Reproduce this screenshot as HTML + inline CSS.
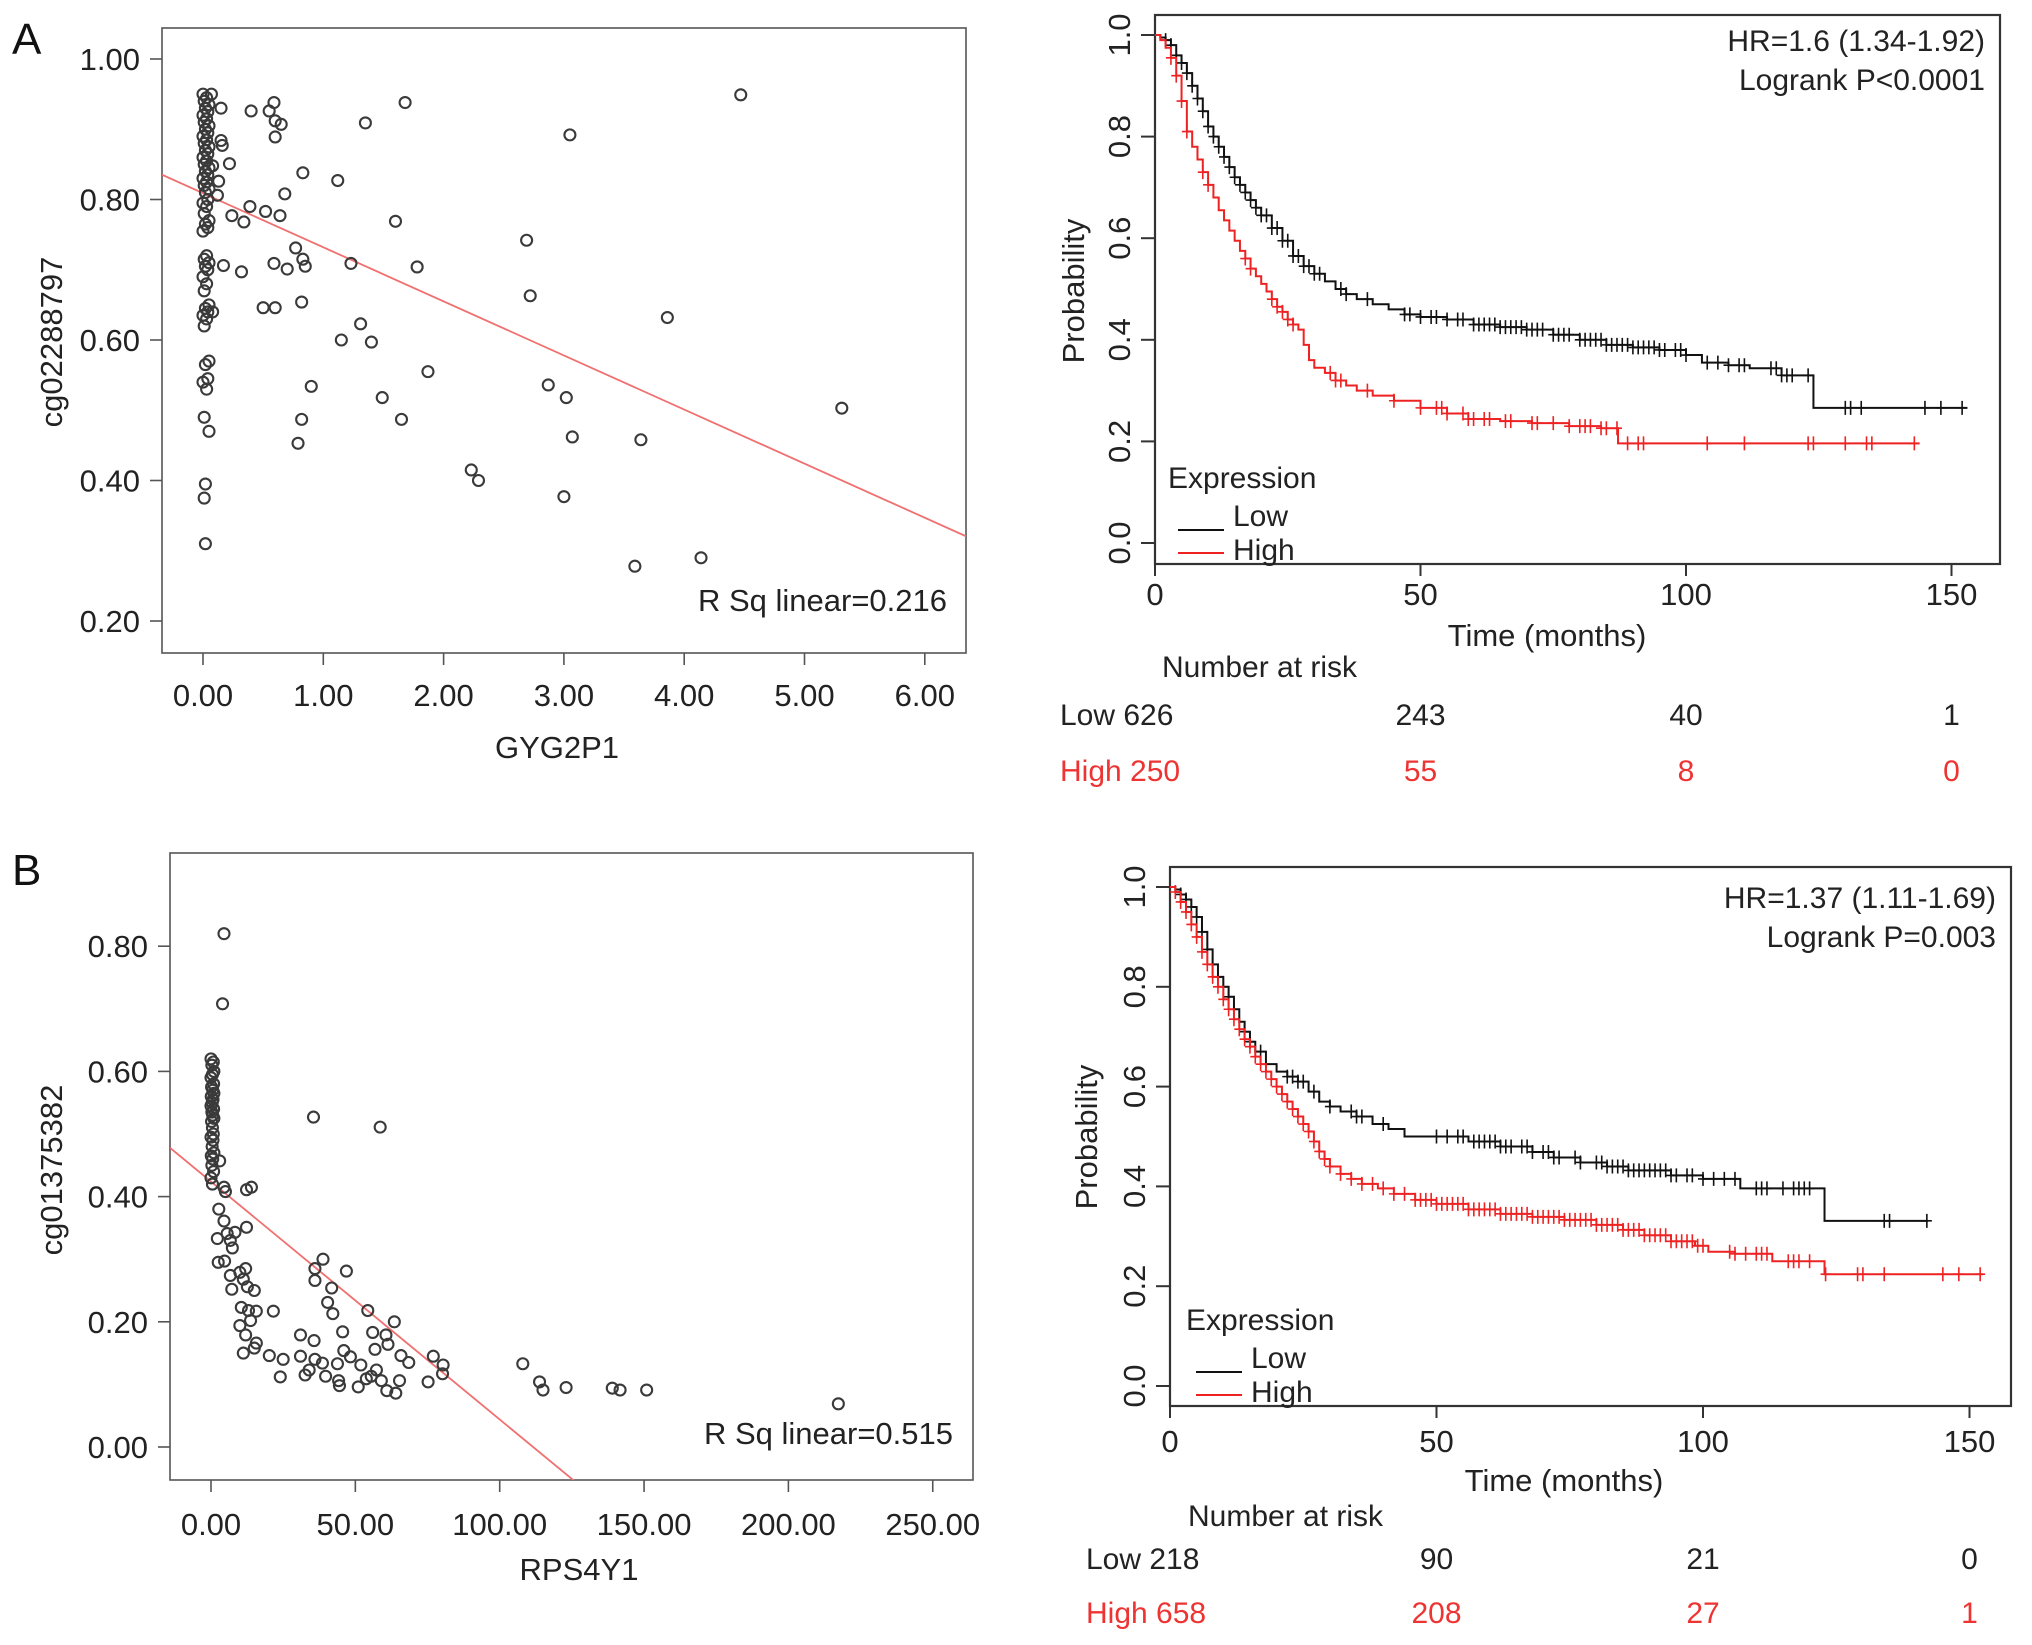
<!DOCTYPE html>
<html><head><meta charset="utf-8"><style>
html,body{margin:0;padding:0;background:#fff;overflow:hidden;width:2032px;height:1645px;}
svg{display:block;font-family:"Liberation Sans",Arial,sans-serif;}
</style></head><body>
<svg id="fig" width="2032" height="1645" viewBox="0 0 2032 1645" xmlns="http://www.w3.org/2000/svg">
<rect width="2032" height="1645" fill="#fff"/>
</svg>
<script>
// ===== Panel A scatter data =====
const scatA_x = [0.00,0.03,0.01,0.05,0.02,0.04,0.00,0.03,0.01,0.05,0.02,0.04,0.00,0.03,0.01,0.05,0.02,0.04,0.00,0.03,0.01,0.05,0.02,0.04,0.00,0.03,0.01,0.05,0.02,0.04,0.00,0.03,0.01,0.05,0.02,0.04,0.00,0.03,0.01,0.05,0.02,0.04,0.00,0.03,0.01,0.05,0.02,0.04,0.00,0.03,0.01,0.05,0.02,0.04,0.00,0.03,0.01,0.05,0.02,0.01,0.02,0.07,0.08,
0.15,0.15,0.16,0.22,0.13,0.12,0.08,0.40,0.39,0.24,0.34,0.17,0.32,0.55,0.59,0.60,0.65,0.60,0.52,0.64,0.68,0.59,0.70,0.50,0.60,0.83,0.77,0.83,0.85,0.82,0.82,0.79,0.90,1.12,1.23,1.35,1.15,1.31,1.40,1.60,1.68,1.78,1.87,1.49,1.65,2.23,2.29,2.69,2.72,3.05,2.87,3.02,3.07,3.00,3.86,3.64,3.59,4.14,4.47,5.31];
const scatA_y = [0.95,0.945,0.94,0.935,0.93,0.925,0.92,0.915,0.91,0.905,0.90,0.895,0.89,0.885,0.88,0.875,0.87,0.865,0.86,0.855,0.85,0.845,0.84,0.835,0.83,0.825,0.82,0.815,0.81,0.80,0.795,0.79,0.78,0.77,0.765,0.76,0.755,0.72,0.715,0.71,0.705,0.70,0.69,0.68,0.67,0.65,0.645,0.64,0.635,0.63,0.62,0.57,0.565,0.545,0.54,0.53,0.49,0.47,0.395,0.375,0.31,0.95,0.64,
0.93,0.884,0.877,0.851,0.826,0.806,0.848,0.926,0.79,0.777,0.768,0.706,0.697,0.926,0.938,0.912,0.907,0.889,0.783,0.777,0.808,0.709,0.701,0.646,0.646,0.838,0.731,0.715,0.705,0.654,0.487,0.453,0.534,0.827,0.709,0.909,0.600,0.623,0.597,0.769,0.938,0.704,0.555,0.518,0.487,0.415,0.40,0.742,0.663,0.892,0.536,0.518,0.462,0.377,0.632,0.458,0.278,0.29,0.949,0.503];
const regA = [0.809, -0.077]; // intercept, slope
const scatA_xticks = ["0.00","1.00","2.00","3.00","4.00","5.00","6.00"];
const scatA_yticks = ["0.20","0.40","0.60","0.80","1.00"];

// ===== Panel B scatter data =====
const scatB_x = [0.0,0.8,0.3,1.0,0.5,0.0,0.9,0.2,0.6,1.0,0.1,0.7,0.4,0.0,0.9,0.3,0.6,1.0,0.2,0.5,0.8,0.0,0.7,0.4,1.0,0.1,0.6,0.3,0.9,0.0,0.5,
4.5,4.0,35.5,58.6,3,4.5,5,12.3,14,2.7,4.5,2.2,5.6,6.7,7.4,2.5,4.7,12.3,8.3,6.7,7.2,10,12,11.2,12.6,15,10.5,13,15.7,21.6,10,12,13.7,15.7,15,11.2,20.2,25,24,
31,35.7,31,32.6,34,36,38.6,39.7,43.8,44.2,44.5,46,48.3,51,51.9,53.8,55.5,57.3,59,60.9,64,65.3,68.5,75.2,77,80.2,80.4,
36,36,38.8,46.9,41.8,40.4,42.2,45.6,54.3,63.5,56,60.6,61.3,56.8,65.8,108,113.8,115,123,139,141.7,150.9,217.3];
const scatB_y = [0.62,0.615,0.61,0.60,0.595,0.59,0.58,0.575,0.57,0.565,0.56,0.555,0.55,0.545,0.54,0.535,0.53,0.525,0.52,0.51,0.50,0.495,0.49,0.48,0.47,0.465,0.46,0.45,0.44,0.43,0.42,
0.82,0.708,0.527,0.511,0.457,0.415,0.408,0.411,0.415,0.38,0.361,0.333,0.341,0.33,0.318,0.295,0.297,0.351,0.343,0.274,0.252,0.279,0.285,0.268,0.256,0.25,0.223,0.218,0.217,0.217,0.194,0.179,0.202,0.166,0.158,0.15,0.146,0.14,0.112,
0.179,0.17,0.145,0.115,0.123,0.14,0.134,0.113,0.133,0.106,0.098,0.154,0.144,0.096,0.131,0.109,0.113,0.123,0.106,0.09,0.086,0.106,0.135,0.104,0.145,0.117,0.131,
0.285,0.266,0.30,0.281,0.254,0.231,0.213,0.184,0.218,0.20,0.183,0.179,0.164,0.156,0.146,0.133,0.104,0.091,0.095,0.094,0.091,0.091,0.069];
const regB = [0.424, -0.0038];
const scatB_xticks = ["0.00","50.00","100.00","150.00","200.00","250.00"];
const scatB_yticks = ["0.00","0.20","0.40","0.60","0.80"];

// ===== KM panel A data =====
const kmA_lowT = [1,2,3,4,5,6,7,8,9,10,11,12,13,14,15,16,17,18,19,20,22,24,26,28,30,32,34,36,38,41,44,47,50,55,60,65,70,75,80,85,90,95,100,103,108,112,118,124];
const kmA_lowS = [0.995,0.99,0.98,0.96,0.945,0.925,0.90,0.875,0.85,0.82,0.80,0.78,0.76,0.74,0.72,0.705,0.69,0.675,0.66,0.645,0.62,0.595,0.565,0.545,0.53,0.515,0.50,0.49,0.48,0.47,0.46,0.45,0.445,0.44,0.43,0.425,0.42,0.41,0.40,0.39,0.385,0.38,0.37,0.355,0.35,0.344,0.33,0.266];
const kmA_lowEnd = 153;
const kmA_lowCens = [2,3,4,5,6,7,8,9,10,11,12,13,14,15,16,17,18,19,20,21,22,23,24,25,26,27,28,29,30,31,35,36,40,47,48,50,52,53,55,57,58,60,61,62,63,64,65,66,67,68,69,70,71,72,73,75,76,77,78,80,81,82,83,84,85,86,87,88,89,90,91,92,93,94,95,96,98,99,100,104,106,108,110,111,116,117,118,119,120,123,130,131,133,145,148,152];
const kmA_highT = [1,2,3,4,5,6,7,8,9,10,11,12,13,14,15,16,17,18,19,20,21,22,23,24,25,26,27,28,29,30,32,34,36,38,41,45,50,55,59,65,71,78,84,87.2];
const kmA_highS = [0.99,0.975,0.955,0.92,0.87,0.81,0.78,0.755,0.73,0.705,0.68,0.655,0.635,0.615,0.595,0.575,0.56,0.54,0.525,0.51,0.495,0.48,0.465,0.455,0.44,0.43,0.42,0.39,0.36,0.345,0.335,0.32,0.31,0.30,0.29,0.28,0.266,0.255,0.244,0.24,0.236,0.23,0.226,0.196];
const kmA_highEnd = 144;
const kmA_highCens = [3,4,5,6,9,10,17,18,22,23,24,25,26,33,34,35,40,45,50,53,54,55,58,59,60,62,63,66,67,71,72,75,78,80,81,82,84,85,87,89,91,92,104,111,123,124,130,134,135,143];
const kmA_riskLow = ["626","243","40","1"];
const kmA_riskHigh = ["250","55","8","0"];

// ===== KM panel B data =====
const kmB_lowT = [1,2,3,4,5,6,7,8,9,10,11,12,13,14,15,16,18,20,22,24,26,28,30,32,35,38,41,44,56,62,68,72,77,82,86,94,100,107,122.8];
const kmB_lowS = [0.995,0.985,0.975,0.96,0.94,0.91,0.875,0.845,0.82,0.80,0.78,0.755,0.73,0.71,0.69,0.67,0.645,0.63,0.62,0.61,0.59,0.57,0.56,0.55,0.54,0.525,0.515,0.50,0.49,0.48,0.469,0.458,0.448,0.44,0.432,0.422,0.415,0.396,0.331];
const kmB_lowEnd = 142.2;
const kmB_lowCens = [2,3,4,5,6,7,8,9,10,11,12,14,15,17,22,23,24,25,27,30,34,35,36,40,50,52,54,55,57,58,59,60,61,62,63,64,66,67,68,70,71,72,73,76,77,80,81,82,83,84,85,86,87,88,89,90,91,92,93,94,95,97,98,100,102,104,106,110,111,112,115,117,118,119,120,134,135,142];
const kmB_highT = [1,2,3,4,5,6,7,8,9,10,11,12,13,14,15,16,17,18,19,20,21,22,23,24,25,26,27,28,29,30,32,34,36,39,42,46,50,56,62,68,74,80,85,89,94,98.5,101,106,113,122.8];
const kmB_highS = [0.99,0.97,0.95,0.925,0.90,0.87,0.845,0.82,0.80,0.775,0.755,0.735,0.715,0.695,0.68,0.66,0.645,0.63,0.615,0.60,0.585,0.57,0.555,0.54,0.525,0.51,0.49,0.47,0.455,0.44,0.425,0.415,0.405,0.396,0.385,0.373,0.365,0.354,0.345,0.339,0.333,0.323,0.313,0.302,0.29,0.281,0.269,0.265,0.25,0.224];
const kmB_highEnd = 152.5;
const kmB_highCens = [1,2,3,4,5,6,7,8,9,10,11,12,13,14,15,16,17,18,19,20,21,22,23,24,25,26,27,28,29,30,32,34,36,38,40,42,44,46,47,48,49,50,51,52,53,54,55,56,57,58,59,60,61,62,63,64,65,66,67,68,69,70,71,72,73,74,75,76,77,78,79,80,81,82,83,84,85,86,87,88,89,90,91,92,93,94,95,96,97,98,99,100,105,106,108,110,111,112,116,117,118,120,123,129,130,134,145,148,152];
const kmB_riskLow = ["218","90","21","0"];
const kmB_riskHigh = ["658","208","27","1"];
const kmTicksX = [0,50,100,150];
const kmTicksY = ["0.0","0.2","0.4","0.6","0.8","1.0"];

const NS="http://www.w3.org/2000/svg";
const svg=document.getElementById('fig');
function mk(tag,attrs,parent,txt){const e=document.createElementNS(NS,tag);for(const k in attrs)e.setAttribute(k,attrs[k]);if(txt!==undefined)e.textContent=txt;(parent||svg).appendChild(e);return e;}

function scatter(cfg){
  const g=mk('g',{});
  
  
  const L=cfg.box[0],T=cfg.box[1],R=cfg.box[2],B=cfg.box[3];
  const frame=mk('rect',{x:L,y:T,width:R-L,height:B-T,fill:'none',stroke:'#555','stroke-width':1.6},g);
  
  
  cfg.yticks.forEach(t=>{const v=parseFloat(t),y=cfg.sy(v);
    mk('line',{x1:L-12,x2:L,y1:y,y2:y,stroke:'#555','stroke-width':1.6},g);
    const tx=mk('text',{x:L-22,y:y+11,'text-anchor':'end','font-size':31,fill:'#222'},g,t);
    
    });
  cfg.xticks.forEach(t=>{const v=parseFloat(t),x=cfg.sx(v);
    mk('line',{x1:x,x2:x,y1:B,y2:B+12,stroke:'#555','stroke-width':1.6},g);
    const tx=mk('text',{x:x,y:cfg.xlabY,'text-anchor':'middle','font-size':31,fill:'#222'},g,t);
    
    });
  const cp=mk('clipPath',{id:cfg.name+'-clip'},g);mk('rect',{x:L,y:T,width:R-L,height:B-T},cp);
  const x0=cfg.sxInv(L),x1=cfg.sxInv(R);
  const rl=mk('line',{x1:L,x2:R,y1:cfg.sy(cfg.reg[0]+cfg.reg[1]*x0),y2:cfg.sy(cfg.reg[0]+cfg.reg[1]*x1),stroke:'#f07070','stroke-width':1.8,'clip-path':'url(#'+cfg.name+'-clip)'},g);
  
  
  cfg.xs.forEach((xv,i)=>{const c=mk('circle',{cx:cfg.sx(xv),cy:cfg.sy(cfg.ys[i]),r:5.5,fill:'none',stroke:'#3a3a3a','stroke-width':2.1},g);
    
    });
  const rs=mk('text',{x:cfg.rsq[0],y:cfg.rsq[1],'text-anchor':'end','font-size':31,fill:'#222'},g,cfg.rsqText);
  
  
  const xt=mk('text',{x:cfg.xtitle[0],y:cfg.xtitle[1],'text-anchor':'middle','font-size':31,fill:'#222'},g,cfg.xtitleText);
  
  
  const yt=mk('text',{x:0,y:0,'text-anchor':'middle','font-size':31,fill:'#222',transform:`translate(${cfg.ytitle[0]},${cfg.ytitle[1]}) rotate(-90)`},g,cfg.ytitleText);
  
  
}

scatter({name:'scatter-a',box:[162,28,966,653],sx:v=>203+v*120.3,sxInv:p=>(p-203)/120.3,sy:v=>59+(1-v)*702.5,
  xs:scatA_x,ys:scatA_y,reg:regA,xticks:scatA_xticks,yticks:scatA_yticks,xlabY:706,
  rsq:[947,611],rsqText:'R Sq linear=0.216',xtitle:[557,758],xtitleText:'GYG2P1',ytitle:[62,342],ytitleText:'cg02288797'});
scatter({name:'scatter-b',box:[170,853,973,1480],sx:v=>211+v*2.887,sxInv:p=>(p-211)/2.887,sy:v=>1447-v*626,
  xs:scatB_x,ys:scatB_y,reg:regB,xticks:scatB_xticks,yticks:scatB_yticks,xlabY:1535,
  rsq:[953,1444],rsqText:'R Sq linear=0.515',xtitle:[579,1580],xtitleText:'RPS4Y1',ytitle:[62,1170],ytitleText:'cg01375382'});

function km(cfg){
  const g=mk('g',{});
  
  
  const L=cfg.box[0],T=cfg.box[1],R=cfg.box[2],B=cfg.box[3];
  const fr=mk('rect',{x:L,y:T,width:R-L,height:B-T,fill:'none',stroke:'#333','stroke-width':2.2},g);
  
  
  kmTicksY.forEach(t=>{const y=cfg.py(parseFloat(t));
    mk('line',{x1:L-14,x2:L,y1:y,y2:y,stroke:'#333','stroke-width':2},g);
    const tx=mk('text',{x:0,y:0,'text-anchor':'middle','font-size':31,fill:'#222',transform:`translate(${L-25},${y}) rotate(-90)`},g,t);
    
    });
  kmTicksX.forEach(t=>{const x=cfg.tx(t);
    mk('line',{x1:x,x2:x,y1:B,y2:B+12,stroke:'#333','stroke-width':2},g);
    const tx=mk('text',{x:x,y:cfg.xlabY,'text-anchor':'middle','font-size':31,fill:'#222'},g,String(t));
    
    });
  function curve(T_,S_,end,cens,color,nm){
    let d=`M${cfg.tx(0)},${cfg.py(1)}`;
    T_.forEach((t,i)=>{d+=` H${cfg.tx(t)} V${cfg.py(S_[i])}`;});
    d+=` H${cfg.tx(end)}`;
    const p=mk('path',{d:d,fill:'none',stroke:color,'stroke-width':2},g);
    
    
    const surv=t=>{let s=1;T_.forEach((tt,i)=>{if(tt<=t)s=S_[i];});return s;};
    let cd='';
    cens.forEach(c=>{const x=cfg.tx(c),y=cfg.py(surv(c));cd+=`M${x},${y-7} V${y+7} M${x-5},${y} H${x+5} `;});
    const cp=mk('path',{d:cd,fill:'none',stroke:color,'stroke-width':1.6},g);
    
    
  }
  curve(cfg.lowT,cfg.lowS,cfg.lowEnd,cfg.lowC,'#111','low');
  curve(cfg.highT,cfg.highS,cfg.highEnd,cfg.highC,'#ee2222','high');
  const h1=mk('text',{x:cfg.hr[0],y:cfg.hr[1],'text-anchor':'end','font-size':30,fill:'#222'},g,cfg.hrText);
  
  
  const h2=mk('text',{x:cfg.hr[0],y:cfg.hr[1]+39,'text-anchor':'end','font-size':30,fill:'#222'},g,cfg.pText);
  
  
  const lg=mk('g',{},g);
  
  
  const lx=cfg.leg[0],ly=cfg.leg[1];
  mk('text',{x:lx,y:ly,'font-size':30,fill:'#222'},lg,'Expression');
  mk('line',{x1:lx+10,x2:lx+56,y1:ly+42,y2:ly+42,stroke:'#111','stroke-width':2},lg);
  const lt=mk('text',{x:lx+65,y:ly+38,'font-size':30,fill:'#222'},lg,'Low');
  
  
  mk('line',{x1:lx+10,x2:lx+56,y1:ly+65,y2:ly+65,stroke:'#ee2222','stroke-width':2},lg);
  const ht=mk('text',{x:lx+65,y:ly+72,'font-size':30,fill:'#222'},lg,'High');
  
  
  const xt=mk('text',{x:cfg.xtitle[0],y:cfg.xtitle[1],'text-anchor':'middle','font-size':31,fill:'#222'},g,'Time (months)');
  
  
  const yt=mk('text',{x:0,y:0,'text-anchor':'middle','font-size':31,fill:'#222',transform:`translate(${cfg.ytitle[0]},${cfg.ytitle[1]}) rotate(-90)`},g,'Probability');
  
  
  const nr=mk('text',{x:cfg.nar[0],y:cfg.nar[1],'font-size':30,fill:'#222'},g,'Number at risk');
  
  
  [['Low',cfg.riskLow,cfg.rowY[0],'#222'],['High',cfg.riskHigh,cfg.rowY[1],'#ee3333']].forEach(r=>{
    const lab=mk('text',{x:cfg.rowX,y:r[2],'font-size':30,fill:r[3]},g,r[0]+' '+r[1][0]);
    
    
    r[1].forEach((v,i)=>{if(i===0)return;
      const t=mk('text',{x:cfg.tx(kmTicksX[i]),y:r[2],'text-anchor':'middle','font-size':30,fill:r[3]},g,v);
      
      });
  });
}

km({name:'km-a',box:[1155,15,2000,564],tx:t=>1155+t*5.31,py:p=>543-p*508,
  lowT:kmA_lowT,lowS:kmA_lowS,lowEnd:kmA_lowEnd,lowC:kmA_lowCens,highT:kmA_highT,highS:kmA_highS,highEnd:kmA_highEnd,highC:kmA_highCens,
  xlabY:605,hr:[1985,51],hrText:'HR=1.6 (1.34-1.92)',pText:'Logrank P<0.0001',leg:[1168,488],
  xtitle:[1547,646],ytitle:[1084,291],nar:[1162,677],rowX:1060,rowY:[725,781],riskLow:kmA_riskLow,riskHigh:kmA_riskHigh});
km({name:'km-b',box:[1170,867,2011,1406],tx:t=>1170+t*5.33,py:p=>1386-p*499,
  lowT:kmB_lowT,lowS:kmB_lowS,lowEnd:kmB_lowEnd,lowC:kmB_lowCens,highT:kmB_highT,highS:kmB_highS,highEnd:kmB_highEnd,highC:kmB_highCens,
  xlabY:1452,hr:[1996,908],hrText:'HR=1.37 (1.11-1.69)',pText:'Logrank P=0.003',leg:[1186,1330],
  xtitle:[1564,1491],ytitle:[1097,1137],nar:[1188,1526],rowX:1086,rowY:[1569,1623],riskLow:kmB_riskLow,riskHigh:kmB_riskHigh});

const la=mk('text',{x:12,y:54,'font-size':44,fill:'#111'},svg,'A');


const lb=mk('text',{x:12,y:885,'font-size':44,fill:'#111'},svg,'B');


</script>
</body></html>
